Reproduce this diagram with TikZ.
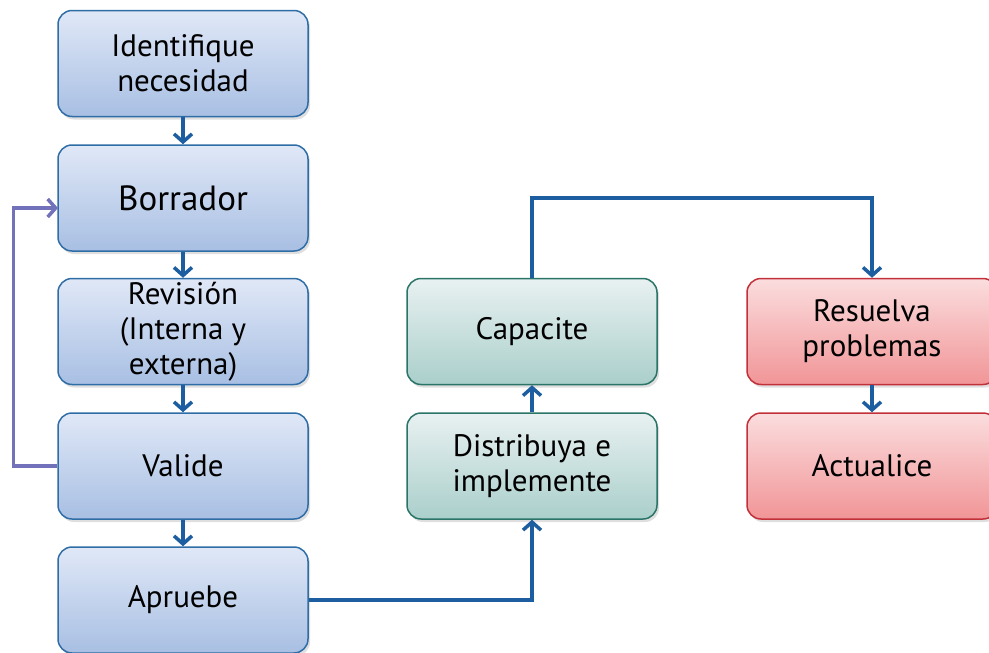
\documentclass[tikz,border=0pt]{standalone}
\usepackage{fontspec}
\setmainfont{PT Sans}
\usetikzlibrary{arrows.meta,shadows,calc}
\definecolor{bluetop}{HTML}{E0E8F7}
\definecolor{bluebot}{HTML}{A8BFE3}
\definecolor{blueedge}{HTML}{2F6DA6}
\definecolor{greentop}{HTML}{E8F1F1}
\definecolor{greenbot}{HTML}{AACFCB}
\definecolor{greenedge}{HTML}{2A7468}
\definecolor{redtop}{HTML}{FBDDDE}
\definecolor{redbot}{HTML}{F19597}
\definecolor{rededge}{HTML}{C2303A}
\definecolor{arrowblue}{HTML}{1C5E9F}
\definecolor{fbpurple}{HTML}{7272BA}
\tikzset{
  box/.style={rectangle, rounded corners=14pt, minimum width=250pt, minimum height=106pt,
    line width=1.5pt, align=center, font=\fontsize{31}{35}\selectfont, inner sep=2pt,
    drop shadow={shadow xshift=2pt, shadow yshift=-3pt, opacity=0.25}},
  bluebox/.style={box, draw=blueedge, top color=bluetop, bottom color=bluebot},
  greenbox/.style={box, draw=greenedge, top color=greentop, bottom color=greenbot},
  redbox/.style={box, draw=rededge, top color=redtop, bottom color=redbot},
  conn/.style={draw=arrowblue, line width=3.5pt, -{Straight Barb[length=8pt,width=18pt,line width=3.5pt]}},
  fb/.style={draw=fbpurple, line width=3.5pt, -{Straight Barb[length=8pt,width=18pt,line width=3.5pt]}}
}
\begin{document}
\begin{tikzpicture}[x=1pt,y=-1pt]
\useasboundingbox (0,0) rectangle (989,653);
\node[bluebox] (ident) at (183,63.5) {Identifique\\necesidad};
\node[bluebox, font=\fontsize{35}{40}\selectfont] (borr) at (183,198) {Borrador};
\node[bluebox] (rev) at (183,331.5) {Revisión\\(Interna y\\externa)};
\node[bluebox] (val) at (183,466) {Valide};
\node[bluebox] (apr) at (183,600) {Apruebe};
\node[greenbox] (cap) at (532,331.5) {Capacite};
\node[greenbox] (dist) at (532,466) {Distribuya e\\implemente};
\node[redbox] (res) at (872,331.5) {Resuelva\\problemas};
\node[redbox] (act) at (872,466) {Actualice};
\coordinate (topbend) at (872,198);
\coordinate (fbin) at (58,208);
\draw[conn] (ident) -- (borr);
\draw[conn] (borr) -- (rev);
\draw[conn] (rev) -- (val);
\draw[conn] (val) -- (apr);
\draw[conn] (apr.east) -| (dist.south);
\draw[conn] (dist) -- (cap);
\draw[conn] (cap.north) |- (topbend) -- (res.north);
\draw[conn] (res) -- (act);
\draw[fb] (val.west) -- ++(-44,0) |- (fbin);
\end{tikzpicture}
\end{document}
